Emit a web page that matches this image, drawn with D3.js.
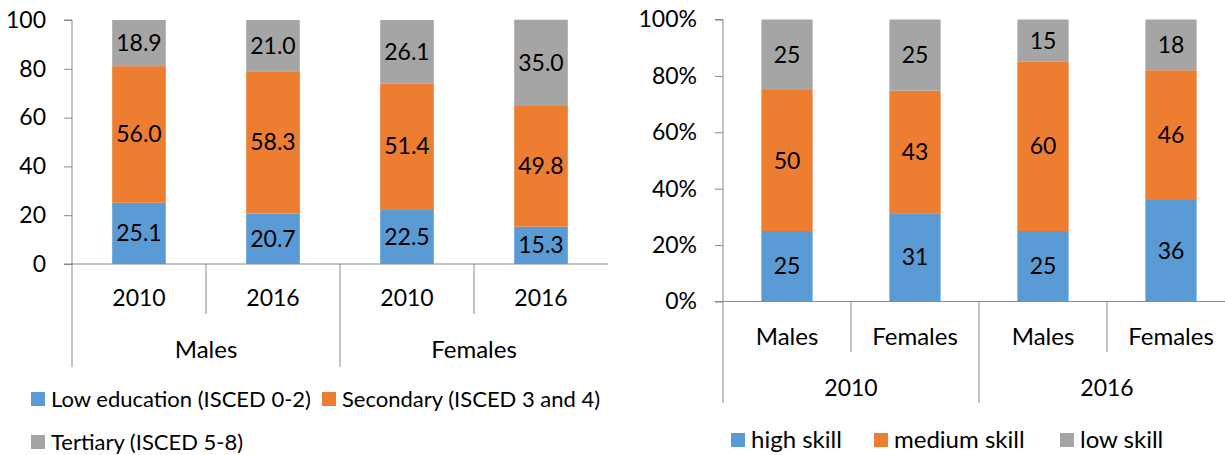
<!DOCTYPE html>
<html>
<head>
<meta charset="utf-8">
<title>Education and skills</title>
<style>
  body { margin: 0; background: #fff; }
  svg text { font-family: Lato, "Open Sans", sans-serif; fill: #000; }
  .axis path, .axis line { stroke: #898989; }
</style>
</head>
<body>
<svg width="1225" height="455"></svg>
<script src="https://cdnjs.cloudflare.com/ajax/libs/d3/7.8.5/d3.min.js"></script>
<script>
// left chart: education by sex and year
var eduGroups = ["Males", "Females"];
var eduYears = ["2010", "2016"];
var eduSeries = ["Low education (ISCED 0-2)", "Secondary (ISCED 3 and 4)", "Tertiary (ISCED 5-8)"];
var eduLow = [25.1, 20.7, 22.5, 15.3];
var eduSec = [56.0, 58.3, 51.4, 49.8];
var eduTer = [18.9, 21.0, 26.1, 35.0];
var eduTicks = [0, 20, 40, 60, 80, 100];

// right chart: skill level by year and sex
var skillGroups = ["2010", "2016"];
var skillSex = ["Males", "Females"];
var skillSeries = ["high skill", "medium skill", "low skill"];
var skillHigh = [25, 31, 25, 36];
var skillMed = [50, 43, 60, 46];
var skillLow = [25, 25, 15, 18];
var skillTicks = [0, 0.2, 0.4, 0.6, 0.8, 1];

var colors = ["#5B9BD5", "#ED7D31", "#A5A5A5"];
var numSize = 23;   // digits
var wordSize = 24;  // words
var axisColor = "#898989";

var svg = d3.select("svg");

// words or numbers get slightly different sizes so widths stay close to the original
function sizeFor(s) { return /^[0-9.%]+$/.test(s) ? numSize : wordSize; }

function drawChart(opt) {
  var n = opt.groups.length * opt.subs.length;
  var cats = d3.range(n);
  var rows = cats.map(function (i) {
    var r = {i: i};
    opt.series.forEach(function (s, k) { r[k] = opt.values[k][i]; });
    return r;
  });

  var x = d3.scaleBand().domain(cats).range([opt.x0, opt.x1]).paddingInner(0.6).paddingOuter(0.3);
  var xb = d3.scaleBand().domain(cats).range([opt.x0, opt.x1]);
  var y = d3.scaleLinear().domain(opt.domain).range([opt.yBottom, opt.yTop]);

  var stack = d3.stack().keys(opt.series.map(function (s, k) { return k; }));
  if (opt.percent) stack.offset(d3.stackOffsetExpand);
  var layers = stack(rows);

  var g = svg.append("g");

  // y axis
  var yAxis = d3.axisLeft(y).tickValues(opt.ticks).tickSize(8).tickPadding(18).tickFormat(opt.fmt);
  var ya = g.append("g").attr("class", "axis")
      .attr("transform", "translate(" + opt.x0 + ",0)")
      .call(yAxis);
  ya.select(".domain").attr("d", "M-8," + opt.yTop + "H0V" + opt.yBottom);
  ya.selectAll("text").style("font-size", numSize + "px");

  // bars
  layers.forEach(function (layer, k) {
    g.append("g").selectAll("rect")
      .data(layer)
      .enter().append("rect")
        .attr("x", function (d, i) { return x(i); })
        .attr("width", x.bandwidth())
        .attr("y", function (d) { return y(d[1]); })
        .attr("height", function (d) { return y(d[0]) - y(d[1]); })
        .attr("fill", colors[k]);
    g.append("g").selectAll("text")
      .data(layer)
      .enter().append("text")
        .attr("x", function (d, i) { return x(i) + x.bandwidth() / 2; })
        .attr("y", function (d) { return (y(d[0]) + y(d[1])) / 2; })
        .attr("dy", "0.35em")
        .attr("text-anchor", "middle")
        .style("font-size", numSize + "px")
        .text(function (d, i) { return opt.labelFmt(opt.values[k][i]); });
  });

  // category axis
  g.append("line")
    .attr("x1", opt.x0 - 8).attr("x2", opt.axisEnd)
    .attr("y1", opt.yBottom).attr("y2", opt.yBottom)
    .attr("stroke", axisColor);
  cats.forEach(function (i) {
    var left = xb(i);
    var outer = i % opt.subs.length === 0;
    var label = opt.subs[i % opt.subs.length];
    g.append("line")
      .attr("x1", left).attr("x2", left)
      .attr("y1", opt.yBottom).attr("y2", outer ? opt.outerEnd : opt.innerEnd)
      .attr("stroke", axisColor);
    g.append("text")
      .attr("x", left + xb.bandwidth() / 2)
      .attr("y", opt.subY)
      .attr("text-anchor", "middle")
      .style("font-size", sizeFor(label) + "px")
      .text(label);
  });
  opt.groups.forEach(function (name, j) {
    var a = xb(j * opt.subs.length);
    var b = a + xb.bandwidth() * opt.subs.length;
    g.append("text")
      .attr("x", (a + b) / 2)
      .attr("y", opt.groupY)
      .attr("text-anchor", "middle")
      .style("font-size", sizeFor(name) + "px")
      .text(name);
  });

  // legend
  opt.series.forEach(function (s, k) {
    var p = opt.legendPos[k];
    g.append("rect")
      .attr("x", p[0]).attr("y", p[1] - 7)
      .attr("width", 14).attr("height", 14)
      .attr("fill", colors[k]);
    g.append("text")
      .attr("x", p[0] + 20).attr("y", p[1])
      .attr("dy", "0.35em")
      .style("font-size", opt.legendSize + "px")
      .text(s);
  });
}

drawChart({
  groups: eduGroups, subs: eduYears, series: eduSeries,
  values: [eduLow, eduSec, eduTer],
  ticks: eduTicks, domain: [0, 100], percent: false,
  fmt: d3.format("d"), labelFmt: d3.format(".1f"),
  x0: 72, x1: 608, axisEnd: 608, yTop: 20, yBottom: 264,
  innerEnd: 314, outerEnd: 367, subY: 306, groupY: 358,
  legendSize: 22,
  legendPos: [[31, 399], [322, 399], [31, 442]]
});

drawChart({
  groups: skillGroups, subs: skillSex, series: skillSeries,
  values: [skillHigh, skillMed, skillLow],
  ticks: skillTicks, domain: [0, 1], percent: true,
  fmt: d3.format(".0%"), labelFmt: d3.format("d"),
  x0: 723, x1: 1235, axisEnd: 1235, yTop: 19.5, yBottom: 301.5,
  innerEnd: 352, outerEnd: 403, subY: 345, groupY: 396,
  legendSize: 24,
  legendPos: [[731, 440], [874, 440], [1060, 440]]
});
</script>
</body>
</html>
